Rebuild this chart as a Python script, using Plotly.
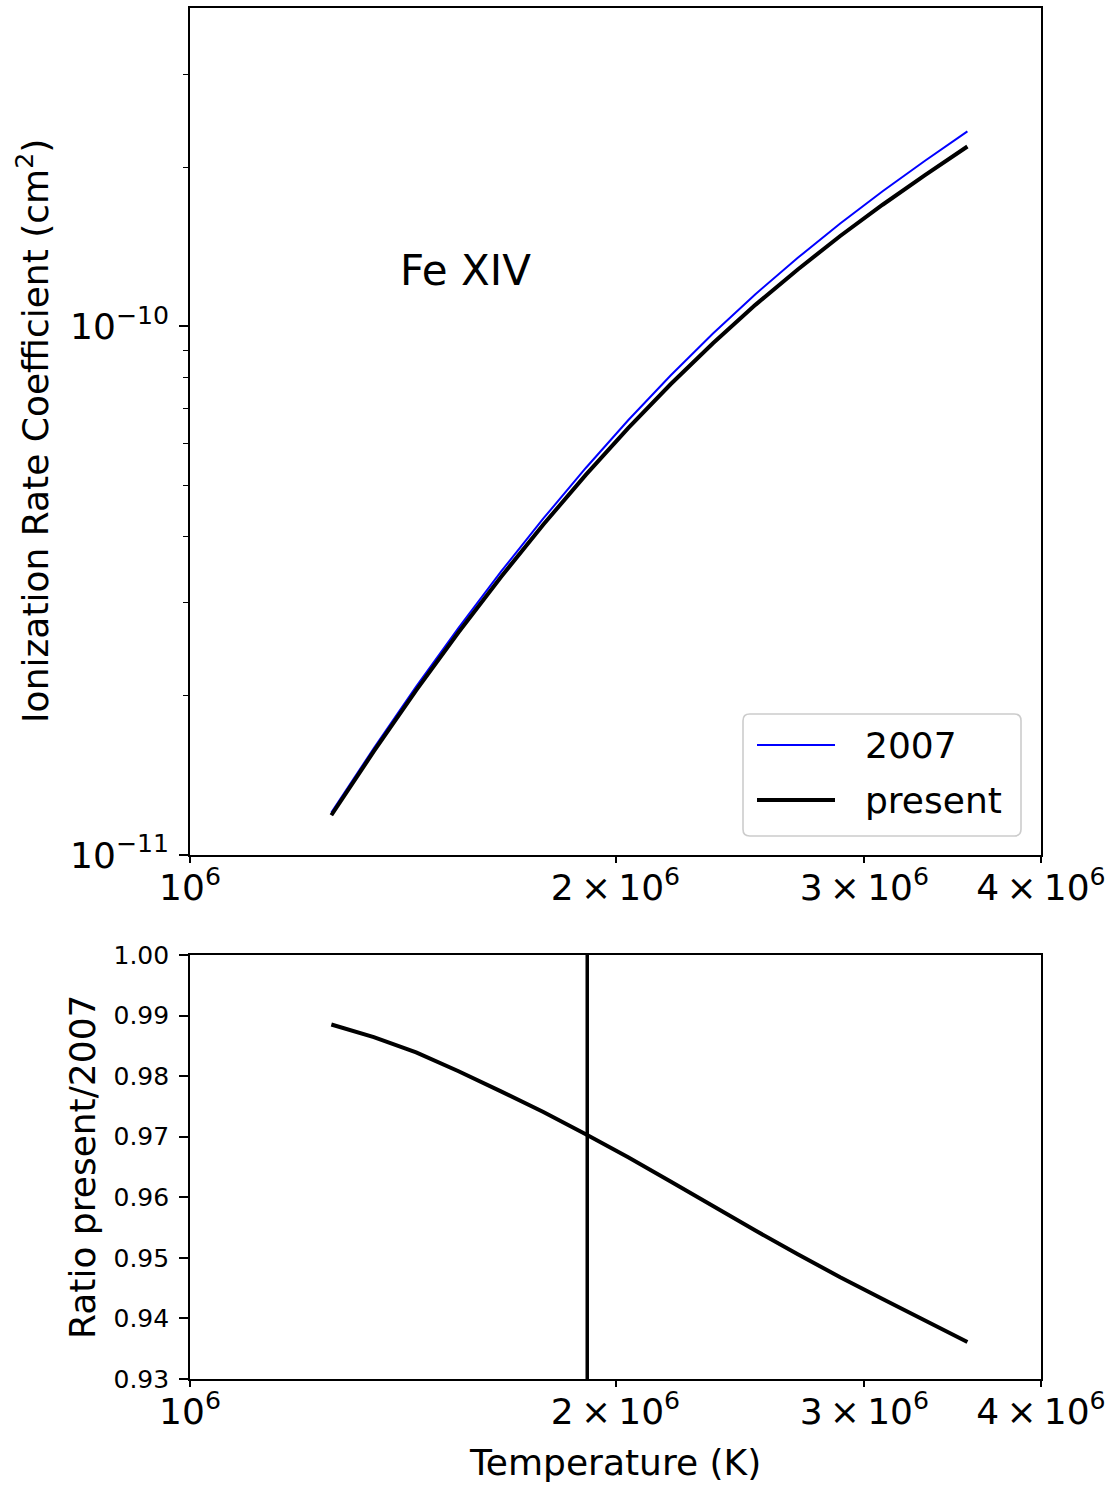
import plotly.graph_objects as go

# Temperature grid (K)
temperature = [1.2589e6, 1.3490e6, 1.4454e6, 1.5488e6, 1.6596e6, 1.7783e6,
               1.9055e6, 2.0417e6, 2.1878e6, 2.3442e6, 2.5119e6, 2.6915e6,
               2.8840e6, 3.0903e6, 3.3113e6, 3.5481e6]

# Fe XIV ionization rate coefficients
rate_2007 = [1.2028e-11, 1.5916e-11, 2.0815e-11, 2.6896e-11, 3.4343e-11, 4.3302e-11,
             5.3957e-11, 6.6408e-11, 8.0719e-11, 9.6922e-11, 1.15034e-10, 1.34757e-10,
             1.56527e-10, 1.80025e-10, 2.05619e-10, 2.33736e-10]
rate_present = [1.189e-11, 1.570e-11, 2.048e-11, 2.638e-11, 3.357e-11, 4.218e-11,
                5.236e-11, 6.419e-11, 7.770e-11, 9.290e-11, 1.0980e-10, 1.2810e-10,
                1.4820e-10, 1.6980e-10, 1.9320e-10, 2.1880e-10]

# Temperature of maximum ionization fraction
t_max = 1.91e6

ratio = [p / o for p, o in zip(rate_present, rate_2007)]

x_ticks = [1e6, 2e6, 3e6, 4e6]
x_ticktext = ["10<sup>6</sup>", "2\u2009×\u200910<sup>6</sup>",
              "3\u2009×\u200910<sup>6</sup>", "4\u2009×\u200910<sup>6</sup>"]
y_top_ticks = [1e-11, 1e-10]
y_top_ticktext = ["10<sup>−11</sup>", "10<sup>−10</sup>"]
y_top_minor = [2e-11, 3e-11, 4e-11, 5e-11, 6e-11, 7e-11, 8e-11, 9e-11, 2e-10, 3e-10]
ratio_ticks = [0.93, 0.94, 0.95, 0.96, 0.97, 0.98, 0.99, 1.00]
ratio_ticktext = ["0.93", "0.94", "0.95", "0.96", "0.97", "0.98", "0.99", "1.00"]

W, H = 1114, 1485
FONT = "DejaVu Sans"
BLUE_LINE = dict(color="#0000ff", width=2)
BLACK_LINE = dict(color="black", width=4)


def px(x):
    return x / W


def py(y):
    return 1 - y / H


fig = go.Figure()

fig.add_trace(go.Scatter(x=temperature, y=rate_2007, mode="lines", line=BLUE_LINE,
                         name="2007", xaxis="x", yaxis="y"))
fig.add_trace(go.Scatter(x=temperature, y=rate_present, mode="lines", line=BLACK_LINE,
                         name="present", xaxis="x", yaxis="y"))
fig.add_trace(go.Scatter(x=temperature, y=ratio, mode="lines", line=BLACK_LINE,
                         xaxis="x2", yaxis="y2"))
fig.add_trace(go.Scatter(x=[t_max, t_max], y=[0.93, 1.00], mode="lines",
                         line=dict(color="black", width=3.5), xaxis="x2", yaxis="y2"))

x_dom = [px(190), px(1041)]
common_axis = dict(showline=True, linecolor="black", linewidth=1.6, mirror=True,
                   showgrid=False, zeroline=False, ticks="outside", tickcolor="black",
                   tickwidth=1.6, automargin=False)

fig.update_layout(
    template="none",
    width=W, height=H,
    margin=dict(l=0, r=0, t=0, b=0, pad=0),
    paper_bgcolor="white", plot_bgcolor="white",
    showlegend=False,
    font=dict(family=FONT, color="black"),
    xaxis=dict(common_axis, type="log", domain=x_dom, anchor="y",
               range=[6, 6.60206], tickmode="array", tickvals=x_ticks,
               ticktext=x_ticktext, ticklen=6, tickfont=dict(size=36),
               ticklabelstandoff=-6),
    yaxis=dict(common_axis, type="log", domain=[py(855), py(8)], anchor="x",
               range=[-11, -9.39794], tickmode="array", tickvals=y_top_ticks,
               ticktext=y_top_ticktext, ticklen=9, tickfont=dict(size=36),
               ticklabelstandoff=3,
               minor=dict(tickmode="array", tickvals=y_top_minor, ticks="outside",
                          ticklen=5, tickcolor="black", tickwidth=1.4)),
    xaxis2=dict(common_axis, type="log", domain=x_dom, anchor="y2",
                range=[6, 6.60206], tickmode="array", tickvals=x_ticks,
                ticktext=x_ticktext, ticklen=6, tickfont=dict(size=36),
                ticklabelstandoff=-6),
    yaxis2=dict(common_axis, domain=[py(1379), py(955)], anchor="x2",
                range=[0.93, 1.00], tickmode="array", tickvals=ratio_ticks,
                ticktext=ratio_ticktext, ticklen=9, tickfont=dict(size=25),
                ticklabelstandoff=5),
)

annotations = [
    dict(text="Fe XIV", x=px(465), y=py(270), font=dict(size=42)),
    dict(text="Ionization Rate Coefficient (cm<sup>2</sup>)", x=px(33), y=py(431),
         textangle=-90, font=dict(size=36)),
    dict(text="Ratio present/2007", x=px(82), y=py(1167), textangle=-90,
         font=dict(size=36)),
    dict(text="Temperature (K)", x=px(615), y=py(1462), font=dict(size=36)),
    dict(text="2007", x=px(863), y=py(745), xanchor="left", font=dict(size=36)),
    dict(text="present", x=px(863), y=py(800), xanchor="left", font=dict(size=36)),
]
for a in annotations:
    a.setdefault("xanchor", "center")
    a.update(xref="paper", yref="paper", yanchor="middle", showarrow=False)
fig.update_layout(annotations=annotations)

# Legend frame with rounded corners and line samples
x0, x1, y0, y1, r = px(743), px(1021), py(836), py(714), 0.006
rx, ry = r, r * W / H
frame = (f"M {x0+rx},{y0} L {x1-rx},{y0} Q {x1},{y0} {x1},{y0+ry} "
         f"L {x1},{y1-ry} Q {x1},{y1} {x1-rx},{y1} L {x0+rx},{y1} "
         f"Q {x0},{y1} {x0},{y1-ry} L {x0},{y0+ry} Q {x0},{y0} {x0+rx},{y0} Z")
fig.add_shape(type="path", path=frame, xref="paper", yref="paper",
              line=dict(color="#cccccc", width=1.6), fillcolor="rgba(255,255,255,0.8)")
fig.add_shape(type="line", x0=px(757), x1=px(835), y0=py(745), y1=py(745),
              xref="paper", yref="paper", line=BLUE_LINE)
fig.add_shape(type="line", x0=px(757), x1=px(835), y0=py(800), y1=py(800),
              xref="paper", yref="paper", line=BLACK_LINE)

fig.write_html("out.html", config=dict(displayModeBar=False))
